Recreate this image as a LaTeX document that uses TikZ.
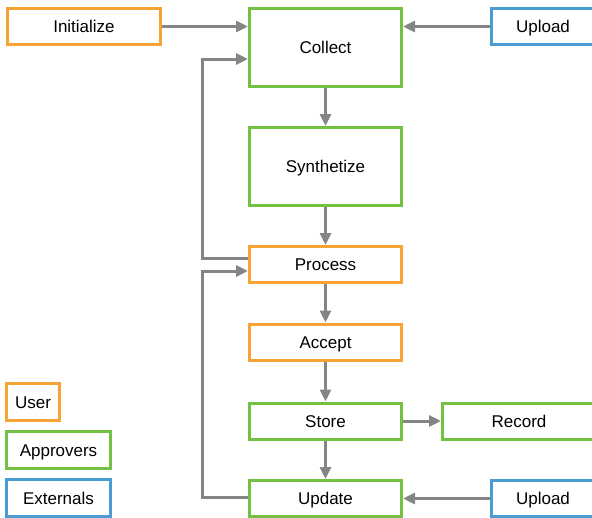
\documentclass[tikz,border=0pt]{standalone}
\usepackage{fontspec}
\setmainfont{Liberation Sans}
\usetikzlibrary{arrows.meta}
\definecolor{uorange}{HTML}{F7A234}
\definecolor{agreen}{HTML}{74C043}
\definecolor{eblue}{HTML}{4A9CD4}
\definecolor{agray}{HTML}{858585}
\begin{document}
\begin{tikzpicture}[x=1pt,y=-1pt,
  box/.style={draw, line width=3pt, inner sep=0pt, fill=white, text=black,
    text height=12.2pt, text depth=0pt,
    font=\fontsize{17}{20}\selectfont},
  userbox/.style={box, draw=uorange},
  apprbox/.style={box, draw=agreen},
  extbox/.style={box, draw=eblue},
  conn/.style={draw=agray, line width=3pt, -{Triangle[length=12pt,width=11pt]}}]
\useasboundingbox (0,0) rectangle (592,517);
% main column
\node[apprbox, minimum width=152pt, minimum height=78pt] (collect) at (325.5,47.5) {Collect};
\node[apprbox, minimum width=152pt, minimum height=78pt] (synth) at (325.5,166.5) {Synthetize};
\node[userbox, minimum width=152pt, minimum height=36pt] (process) at (325.5,264.5) {Process};
\node[userbox, minimum width=152pt, minimum height=36pt] (accept) at (325.5,342) {Accept};
\node[apprbox, minimum width=152pt, minimum height=36pt] (store) at (325.5,421) {Store};
\node[apprbox, minimum width=152pt, minimum height=36pt] (update) at (325.5,498.5) {Update};
% side boxes
\node[userbox, minimum width=153pt, minimum height=36pt] (init) at (84,26.5) {Initialize};
\node[extbox, minimum width=103pt, minimum height=36pt] (uptop) at (543,26.5) {Upload};
\node[apprbox, minimum width=153pt, minimum height=36pt] (record) at (519,421) {Record};
\node[extbox, minimum width=103pt, minimum height=36pt] (upbot) at (543,498.5) {Upload};
% legend
\node[userbox, minimum width=53pt, minimum height=37pt] (leguser) at (33,402) {User};
\node[apprbox, minimum width=104pt, minimum height=37pt] (legappr) at (58.5,450) {Approvers};
\node[extbox, minimum width=104pt, minimum height=37pt] (legext) at (58.5,498) {Externals};
% connectors
\coordinate (fbx) at (202,0);
\draw[conn] (init.east) -- (init.east -| collect.west);
\draw[conn] (uptop.west) -- (uptop.west -| collect.east);
\draw[conn] (collect) -- (synth);
\draw[conn] (synth) -- (process);
\draw[conn] (process) -- (accept);
\draw[conn] (accept) -- (store);
\draw[conn] (store) -- (update);
\draw[conn] (store) -- (record);
\draw[conn] (upbot.west) -- (upbot.west -| update.east);
\draw[conn] ([yshift=6.5pt]process.west) -- ([yshift=6.5pt]process.west -| fbx) |- ([yshift=-11.5pt]collect.west);
\draw[conn] ([yshift=1.5pt]update.west) -- ([yshift=1.5pt]update.west -| fbx) |- ([yshift=-6.5pt]process.west);
\end{tikzpicture}
\end{document}
